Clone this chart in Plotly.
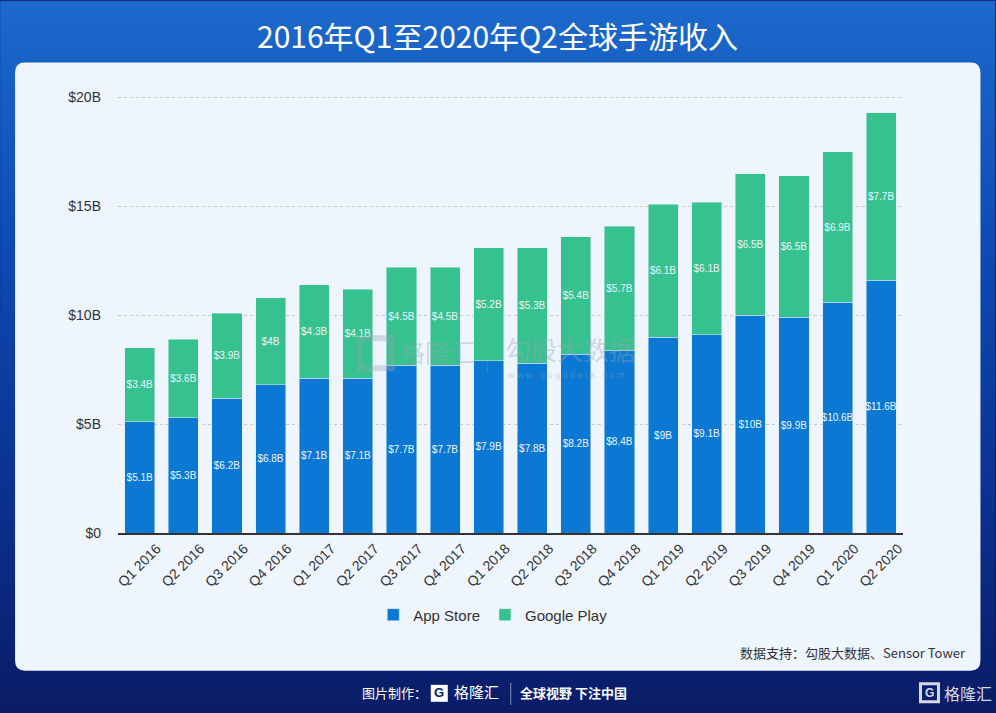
import base64
import plotly.graph_objects as go

quarters = ["Q1 2016", "Q2 2016", "Q3 2016", "Q4 2016", "Q1 2017", "Q2 2017", "Q3 2017", "Q4 2017",
            "Q1 2018", "Q2 2018", "Q3 2018", "Q4 2018", "Q1 2019", "Q2 2019", "Q3 2019", "Q4 2019",
            "Q1 2020", "Q2 2020"]
app_store = [5.1, 5.3, 6.2, 6.8, 7.1, 7.1, 7.7, 7.7, 7.9, 7.8, 8.2, 8.4, 9, 9.1, 10, 9.9, 10.6, 11.6]
google_play = [3.4, 3.6, 3.9, 4, 4.3, 4.1, 4.5, 4.5, 5.2, 5.3, 5.4, 5.7, 6.1, 6.1, 6.5, 6.5, 6.9, 7.7]
y_ticks = [0, 5, 10, 15, 20]
y_ticklabels = ["$0", "$5B", "$10B", "$15B", "$20B"]

W_PX, H_PX = 996, 713
ML, MR, MT, MB = 118, 92.5, 90.5, 180
PW = W_PX - ML - MR
PH = H_PX - MT - MB


def px(xp):
    return (xp - ML) / PW


def py(yp):
    return (MT + PH - yp) / PH


def fmt(v):
    return "$" + f"{v:g}" + "B"


CJK = "Noto Sans CJK SC"
LAT = "Liberation Sans, Arial, sans-serif"

svg = f'''<svg xmlns="http://www.w3.org/2000/svg" width="{W_PX}" height="{H_PX}">
<defs><linearGradient id="g" x1="0" y1="0" x2="0" y2="1">
<stop offset="0" stop-color="#1c6acb"/>
<stop offset="0.35" stop-color="#0d4ab3"/>
<stop offset="0.7" stop-color="#0b318f"/>
<stop offset="1" stop-color="#0a1c66"/>
</linearGradient></defs>
<rect width="100%" height="100%" fill="url(#g)"/>
</svg>'''
bg_uri = "data:image/svg+xml;base64," + base64.b64encode(svg.encode()).decode()

fig = go.Figure()
fig.add_trace(go.Bar(
    x=quarters, y=app_store, name="App Store", marker_color="#0b79d3",
    text=[fmt(v) for v in app_store], texttemplate="%{text}",
    textposition="inside", insidetextanchor="middle",
    textangle=0, textfont=dict(color="#eef4fb", size=10, family=LAT),
))
fig.add_trace(go.Bar(
    x=quarters, y=google_play, name="Google Play", marker_color="#35c28e",
    text=[fmt(v) for v in google_play], texttemplate="%{text}",
    textposition="inside", insidetextanchor="middle",
    textangle=0, textfont=dict(color="#eef4fb", size=10, family=LAT),
))

x0, x1, y0, y1, r = 15, 981, 62, 671, 10
rx, ry = r / PW, r / PH
X0, X1, Y0, Y1 = px(x0), px(x1), py(y1), py(y0)
path = (f"M {X0+rx},{Y0} L {X1-rx},{Y0} Q {X1},{Y0} {X1},{Y0+ry} "
        f"L {X1},{Y1-ry} Q {X1},{Y1} {X1-rx},{Y1} L {X0+rx},{Y1} "
        f"Q {X0},{Y1} {X0},{Y1-ry} L {X0},{Y0+ry} Q {X0},{Y0} {X0+rx},{Y0} Z")

shapes = [
    dict(type="path", path=path, xref="paper", yref="paper", fillcolor="#eef5fd",
         line=dict(width=0), layer="below"),
    dict(type="line", xref="paper", yref="paper", x0=px(511), x1=px(511), y0=py(683), y1=py(705),
         line=dict(color="#8090c0", width=1)),
    dict(type="line", xref="paper", yref="paper", x0=px(488), x1=px(488), y0=py(335), y1=py(372),
         line=dict(color="rgba(150,160,175,0.35)", width=1), layer="above"),
    dict(type="rect", xref="paper", yref="paper", x0=px(431), x1=px(448), y0=py(702), y1=py(685),
         fillcolor="white", line=dict(width=0)),
    dict(type="rect", xref="paper", yref="paper", x0=px(921), x1=px(939), y0=py(702), y1=py(684),
         fillcolor="rgba(0,0,0,0)", line=dict(color="#d5d9e6", width=3)),
    dict(type="rect", xref="paper", yref="paper", x0=px(360), x1=px(392), y0=py(368), y1=py(338),
         fillcolor="rgba(0,0,0,0)", line=dict(color="rgba(150,165,180,0.35)", width=6), layer="above"),
]

annotations = [
    dict(text="2016年Q1至2020年Q2全球手游收入", x=px(498), y=py(34), xref="paper", yref="paper",
         showarrow=False, font=dict(family=CJK, size=30, color="white"), xanchor="center", yanchor="middle"),
    dict(text="数据支持：勾股大数据、Sensor Tower", x=px(969), y=py(653), xref="paper", yref="paper",
         showarrow=False, xanchor="right", yanchor="middle", font=dict(family=CJK, size=13, color="#333333")),
    dict(text="图片制作：", x=px(360), y=py(693), xref="paper", yref="paper", showarrow=False,
         xanchor="left", yanchor="middle", font=dict(family=CJK, size=13, color="white")),
    dict(text="<b>G</b>", x=px(439.5), y=py(693), xref="paper", yref="paper", showarrow=False,
         xanchor="center", yanchor="middle", font=dict(family=LAT, size=13, color="#0b1d6a")),
    dict(text="格隆汇", x=px(452), y=py(692), xref="paper", yref="paper", showarrow=False,
         xanchor="left", yanchor="middle", font=dict(family=CJK, size=15, color="white")),
    dict(text="<b>全球视野 下注中国</b>", x=px(518), y=py(693), xref="paper", yref="paper", showarrow=False,
         xanchor="left", yanchor="middle", font=dict(family=CJK, size=13, color="white")),
    dict(text="<b>G</b>", x=px(930), y=py(693), xref="paper", yref="paper", showarrow=False,
         xanchor="center", yanchor="middle", font=dict(family=LAT, size=12, color="#d5d9e6")),
    dict(text="格隆汇", x=px(943), y=py(693), xref="paper", yref="paper", showarrow=False,
         xanchor="left", yanchor="middle", font=dict(family=CJK, size=16, color="#d5d9e6")),
    dict(text="格隆汇", x=px(398), y=py(351), xref="paper", yref="paper", showarrow=False,
         xanchor="left", yanchor="middle", font=dict(family=CJK, size=25, color="rgba(150,165,180,0.4)")),
    dict(text="勾股大数据", x=px(503), y=py(348), xref="paper", yref="paper", showarrow=False,
         xanchor="left", yanchor="middle", font=dict(family=CJK, size=26, color="rgba(150,165,180,0.4)")),
    dict(text="w w w . g o g u d a t a . c o m", x=px(505), y=py(375), xref="paper", yref="paper",
         showarrow=False, xanchor="left", yanchor="middle",
         font=dict(family=LAT, size=9, color="rgba(150,165,180,0.4)")),
]

fig.update_layout(
    width=W_PX, height=H_PX, barmode="stack", bargap=0.31,
    margin=dict(l=ML, r=MR, t=MT, b=MB, autoexpand=False),
    paper_bgcolor="#0a1c66", plot_bgcolor="rgba(0,0,0,0)",
    images=[dict(source=bg_uri, xref="paper", yref="paper", x=px(0), y=py(0),
                 sizex=W_PX / PW, sizey=H_PX / PH, sizing="stretch", xanchor="left", yanchor="top",
                 layer="below")],
    shapes=shapes, annotations=annotations,
    uniformtext=dict(minsize=10, mode="show"),
    legend=dict(orientation="h", x=px(493), y=py(615), xanchor="center", yanchor="middle",
                traceorder="normal",
                font=dict(family=LAT, size=15, color="#333333"), bgcolor="rgba(0,0,0,0)",
                itemwidth=30, tracegroupgap=0),
    font=dict(family=LAT, color="#333333"),
    xaxis=dict(tickangle=-45, tickfont=dict(size=14, color="#333333", family=LAT),
               showline=True, linecolor="#333333", linewidth=2, ticks="", showgrid=False,
               range=[-0.5, 17.5], ticklabelshift=17),
    yaxis=dict(range=[0, 20.3], tickvals=y_ticks, ticktext=y_ticklabels,
               tickfont=dict(size=14, color="#333333", family=LAT),
               showgrid=True, gridcolor="#c4c9d0", griddash="dot", gridwidth=1,
               zeroline=False, showline=False, ticklabelstandoff=16),
)

fig.write_html("out.html")
